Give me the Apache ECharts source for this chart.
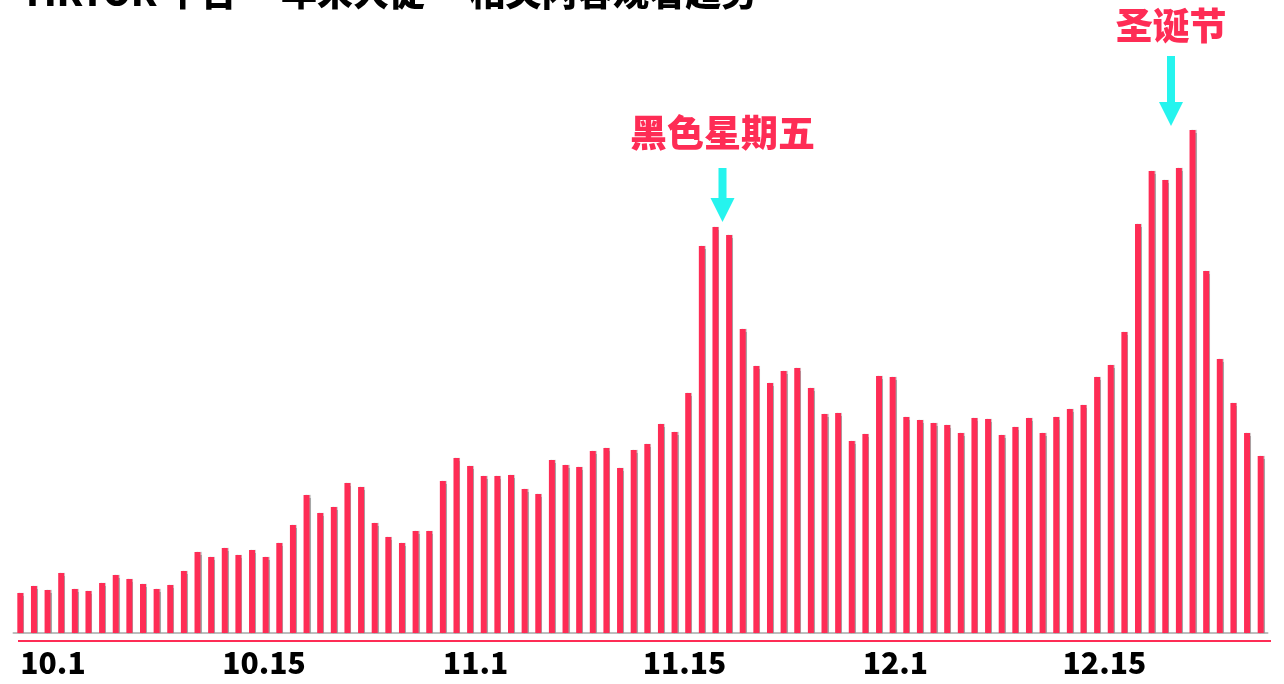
<!DOCTYPE html>
<html>
<head>
<meta charset="utf-8">
<script src="https://cdn.jsdelivr.net/npm/echarts@6/dist/echarts.min.js"></script>
<style>
html,body{margin:0;padding:0;background:#fff;}
#chart{width:1284px;height:684px;}
</style>
</head>
<body>
<div id="chart"></div>
<script>
// Months shown (month number, days)
const months = [[10, 31], [11, 30], [12, 31]];
// Daily categories 10.1 ... 12.31
const categories = [];
months.forEach(function (m) { for (let d = 1; d <= m[1]; d++) categories.push(m[0] + '.' + d); });

// Relative daily viewing volume
const octValues = [40, 47, 43, 60, 44, 42, 50, 58, 54, 49, 44, 48, 62, 81, 76, 85, 78, 83, 76, 90,
  108, 138, 120, 126, 150, 146, 110, 96, 90, 102, 102];
const novValues = [152, 175, 167, 157, 157, 158, 144, 139, 173, 168, 166, 182, 185, 165, 183, 189,
  209, 201, 240, 387, 406, 398, 304, 267, 250, 262, 265, 245, 219, 220];
const decValues = [192, 199, 257, 256, 216, 213, 210, 208, 200, 215, 214, 198, 206, 215, 200, 216,
  224, 228, 256, 268, 301, 409, 462, 453, 465, 503, 362, 274, 230, 200, 177];
const values = octValues.concat(novValues, decValues);

// Tick labels shown on the axis
const tickLabels = ['10.1', '10.15', '11.1', '11.15', '12.1', '12.15'];

const titleText = 'TIKTOK 平台 “年末大促” 相关内容观看趋势';
const annotations = ['黑色星期五', '圣诞节'];

const PINK = '#FE2C55';
const CYAN = '#25F4EE';
const FONT = '"Noto Sans CJK SC", "Noto Sans", sans-serif';

const labelShift = { '10.1': 0, '10.15': 11, '11.1': 0, '11.15': 9, '12.1': 11, '12.15': 20 };
const rich = {};
tickLabels.forEach(function (t, i) {
  rich['t' + i] = { fontSize: 30, fontWeight: 900, fontFamily: FONT, color: '#000', padding: [0, 0, 0, labelShift[t]] };
});

function arrow(cx, y0, y1) {
  // shaft width 8, head width 24, head length 24
  const hy = y1 - 24;
  return {
    type: 'polygon',
    shape: { points: [[cx - 4, y0], [cx + 4, y0], [cx + 4, hy], [cx + 12, hy], [cx, y1], [cx - 12, hy], [cx - 4, hy]] },
    style: { fill: CYAN }
  };
}

const chart = echarts.init(document.getElementById('chart'), null, { renderer: 'canvas' });
chart.setOption({
  animation: false,
  backgroundColor: '#fff',
  grid: { left: 13.5, right: 16.5, top: 113, bottom: 51 },
  xAxis: {
    type: 'category',
    data: categories,
    boundaryGap: true,
    axisLine: { lineStyle: { color: '#bdbdbd', width: 2 } },
    axisTick: { show: false },
    axisLabel: {
      interval: function (idx, val) { return tickLabels.indexOf(val) >= 0; },
      align: 'left',
      margin: 15,
      formatter: function (val) { const i = tickLabels.indexOf(val); return '{t' + i + '|' + val + '}'; },
      rich: rich
    }
  },
  yAxis: { type: 'value', min: 0, max: 520, show: false, splitLine: { show: false } },
  series: [{
    type: 'bar',
    data: values,
    barWidth: 6,
    itemStyle: {
      color: PINK,
      shadowColor: 'rgba(0,0,0,0.35)',
      shadowOffsetX: 1,
      shadowOffsetY: 0,
      shadowBlur: 1
    }
  }],
  graphic: [
    { type: 'text', left: 21, top: -26, style: { text: titleText, font: '900 36px ' + FONT, fill: '#000' } },
    { type: 'line', shape: { x1: 18, y1: 641, x2: 1271, y2: 641 }, style: { stroke: PINK, lineWidth: 2 } },
    { type: 'text', x: 722.5, y: 132.5, style: { text: annotations[0], font: '900 37px ' + FONT, fill: PINK, textAlign: 'center', textVerticalAlign: 'middle' } },
    arrow(722.5, 168, 222),
    { type: 'text', x: 1171, y: 26, style: { text: annotations[1], font: '900 37px ' + FONT, fill: PINK, textAlign: 'center', textVerticalAlign: 'middle' } },
    arrow(1171, 56, 126)
  ]
});
</script>
</body>
</html>
